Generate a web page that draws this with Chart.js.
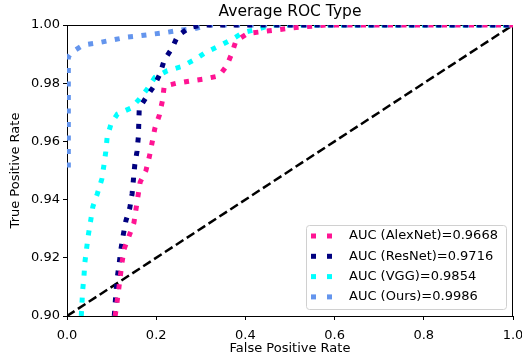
<!DOCTYPE html>
<html>
<head>
<meta charset="utf-8">
<script src="https://cdn.jsdelivr.net/npm/chart.js@4/dist/chart.umd.min.js"></script>
<style>
  html, body { margin: 0; padding: 0; background: #fff; }
</style>
</head>
<body>
<canvas id="roc" width="522" height="356"></canvas>
<script>
const chartTitle = 'Average ROC Type';
const seriesNames = ['AUC (AlexNet)=0.9668', 'AUC (ResNet)=0.9716', 'AUC (VGG)=0.9854', 'AUC (Ours)=0.9986'];
const seriesColors = ['#ff1493', '#000080', '#00ffff', '#6495ed'];

const alexX = [0.108, 0.115, 0.123, 0.128, 0.138, 0.150, 0.155, 0.164, 0.177, 0.185, 0.197, 0.207, 0.214, 0.218, 0.246, 0.278, 0.309, 0.341, 0.358, 0.369, 0.379, 0.405, 0.437, 0.469, 0.500, 0.534, 0.580, 1.0];
const alexY = [0.900, 0.908, 0.918, 0.923, 0.927, 0.932, 0.937, 0.946, 0.950, 0.955, 0.9645, 0.969, 0.974, 0.979, 0.980, 0.9808, 0.9815, 0.9825, 0.986, 0.990, 0.9946, 0.9971, 0.9977, 0.9983, 0.9989, 0.9994, 1.0, 1.0];

const resX = [0.106, 0.110, 0.113, 0.117, 0.121, 0.126, 0.132, 0.141, 0.146, 0.149, 0.152, 0.157, 0.160, 0.161, 0.162, 0.177, 0.195, 0.2085, 0.218, 0.235, 0.248, 0.274, 0.304, 1.0];
const resY = [0.900, 0.9086, 0.9135, 0.918, 0.923, 0.9278, 0.9327, 0.9373, 0.942, 0.947, 0.952, 0.9566, 0.9616, 0.9664, 0.9714, 0.975, 0.979, 0.9832, 0.9879, 0.9919, 0.9962, 0.9991, 1.0, 1.0];

const vggX = [0.032, 0.035, 0.038, 0.040, 0.044, 0.048, 0.053, 0.058, 0.068, 0.078, 0.083, 0.087, 0.090, 0.0987, 0.113, 0.143, 0.162, 0.180, 0.197, 0.225, 0.257, 0.285, 0.311, 0.341, 0.369, 0.395, 0.425, 0.460, 1.0];
const vggY = [0.900, 0.9086, 0.9135, 0.9183, 0.9233, 0.928, 0.9327, 0.9376, 0.942, 0.947, 0.952, 0.9565, 0.9614, 0.966, 0.9694, 0.9714, 0.9745, 0.978, 0.982, 0.9843, 0.9857, 0.988, 0.9906, 0.9928, 0.995, 0.9974, 0.9985, 1.0, 1.0];

const oursX = [0.003, 0.003, 0.0105, 0.036, 0.070, 0.100, 0.134, 0.164, 0.194, 0.225, 0.257, 0.290, 0.320, 1.0];
const oursY = [0.951, 0.989, 0.9906, 0.9931, 0.9939, 0.9948, 0.9958, 0.9963, 0.9969, 0.9975, 0.9983, 0.9989, 1.0, 1.0];

const chanceX = [0, 1];
const chanceY = [0.9, 1];

const yTicks = [0.90, 0.92, 0.94, 0.96, 0.98, 1.00];
const xTicks = [0.0, 0.2, 0.4, 0.6, 0.8, 1.0];

function toPoints(xs, ys) {
  return xs.map((x, i) => ({ x: x, y: ys[i] }));
}

const curveData = [[alexX, alexY], [resX, resY], [vggX, vggY], [oursX, oursY]];
const datasets = curveData.map((c, i) => ({
  label: seriesNames[i],
  data: toPoints(c[0], c[1]),
  borderColor: seriesColors[i],
  backgroundColor: seriesColors[i],
  borderWidth: 5,
  borderDash: [5, 8.5],
  pointRadius: 0,
  showLine: true,
  tension: 0
}));
datasets.push({
  label: 'chance',
  data: toPoints(chanceX, chanceY),
  borderColor: '#000',
  borderWidth: 2.5,
  borderDash: [9, 4],
  pointRadius: 0,
  showLine: true
});

// box round the plot and the title centred over it, like matplotlib
const frame = {
  id: 'frame',
  beforeDatasetsDraw(chart) {
    const a = chart.chartArea, ctx = chart.ctx;
    ctx.save();
    ctx.strokeStyle = '#000';
    ctx.lineWidth = 1;
    ctx.strokeRect(a.left + 0.5, a.top + 0.5, a.right - a.left - 1, a.bottom - a.top);
    ctx.fillStyle = '#000';
    ctx.font = '15.5px "DejaVu Sans"';
    ctx.textAlign = 'center';
    ctx.textBaseline = 'middle';
    ctx.fillText(chartTitle, (a.left + a.right) / 2, 12);
    ctx.restore();
  }
};

// legend in the lower right corner of the plot
const cornerLegend = {
  id: 'cornerLegend',
  afterDatasetsDraw(chart) {
    const a = chart.chartArea, ctx = chart.ctx;
    const w = 200, h = 84;
    const x0 = a.right - 7 - w, y0 = a.bottom - 7 - h;
    ctx.save();
    ctx.fillStyle = 'rgba(255,255,255,0.8)';
    ctx.strokeStyle = '#d0d0d0';
    ctx.lineWidth = 1;
    ctx.beginPath();
    ctx.roundRect(x0 + 0.5, y0 + 0.5, w, h, 3);
    ctx.fill();
    ctx.stroke();
    ctx.font = '13px "DejaVu Sans"';
    ctx.textBaseline = 'middle';
    for (let i = 0; i < seriesNames.length; i++) {
      const cy = y0 + 11 + i * 20.3;
      ctx.fillStyle = seriesColors[i];
      ctx.fillRect(x0 + 5, cy - 2.5, 5, 5);
      ctx.fillRect(x0 + 21, cy - 2.5, 5, 5);
      ctx.fillStyle = '#000';
      ctx.fillText(seriesNames[i], x0 + 43, cy);
    }
    ctx.restore();
  }
};

Chart.defaults.color = '#000';
Chart.defaults.font.family = '"DejaVu Sans", sans-serif';
Chart.defaults.font.size = 13;

new Chart(document.getElementById('roc'), {
  type: 'scatter',
  data: { datasets: datasets },
  options: {
    responsive: false,
    animation: false,
    layout: { padding: { left: 0, right: 9, top: 25, bottom: 0 } },
    plugins: {
      legend: { display: false },
      tooltip: { enabled: false },
      title: { display: false }
    },
    scales: {
      x: {
        type: 'linear',
        min: 0,
        max: 1,
        afterBuildTicks: s => { s.ticks = xTicks.map(v => ({ value: v })); },
        afterFit: s => { s.height = 40; s.paddingLeft = 0; s.paddingRight = 0; },
        ticks: { callback: v => v.toFixed(1), padding: 8, maxRotation: 0 },
        grid: { drawOnChartArea: false, drawTicks: true, tickLength: 4, color: '#000' },
        border: { display: true, color: '#000' },
        title: { display: true, text: 'False Positive Rate', padding: { top: 0, bottom: 0 } }
      },
      y: {
        type: 'linear',
        min: 0.9,
        max: 1,
        afterBuildTicks: s => { s.ticks = yTicks.map(v => ({ value: v })); },
        afterFit: s => { s.width = 67; s.paddingTop = 0; s.paddingBottom = 0; },
        ticks: { callback: v => v.toFixed(2), padding: 3 },
        grid: { drawOnChartArea: false, drawTicks: true, tickLength: 4, color: '#000' },
        border: { display: true, color: '#000' },
        title: { display: true, text: 'True Positive Rate', padding: { top: 8, bottom: 4 } }
      }
    }
  },
  plugins: [frame, cornerLegend]
});
</script>
</body>
</html>
